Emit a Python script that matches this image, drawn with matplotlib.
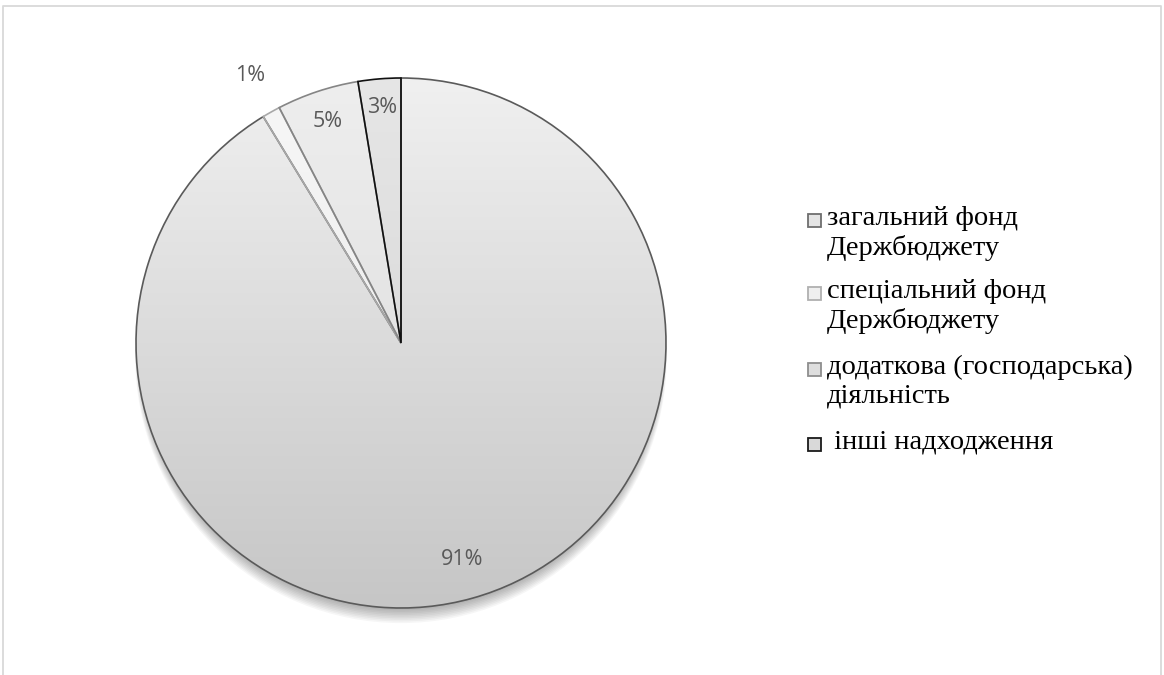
import numpy as np
import matplotlib
matplotlib.use("Agg")
import matplotlib.pyplot as plt
from matplotlib.patches import Rectangle, Circle
from matplotlib.colors import LinearSegmentedColormap

# ---- data ----
labels = [
    "загальний фонд\nДержбюджету",
    "спеціальний фонд\nДержбюджету",
    "додаткова (господарська)\nдіяльність",
    " інші надходження",
]
shares = [91.3, 1.1, 5.0, 2.6]

# ---- style ----
grad_top = ["#f0f0f0", "#f7f7f7", "#eeeeee", "#e6e6e6"]
grad_bot = ["#c6c6c6", "#e6e6e6", "#d9d9d9", "#d2d2d2"]
edge_cols = ["#5a5a5a", "#a8a8a8", "#858585", "#111111"]
box_faces = ["#e4e4e4", "#efefef", "#dedede", "#d9d9d9"]
box_edges = ["#6e6e6e", "#b0b0b0", "#8e8e8e", "#1a1a1a"]
label_r = [0.85, 1.16, 0.88, 0.89]
pct_color = "#595959"

W, H = 1164, 675
fig = plt.figure(figsize=(W / 100, H / 100), dpi=100)
fig.patch.set_facecolor("white")

# outer frame (top, left, right)
frame = fig.add_axes([0, 0, 1, 1])
frame.set_xlim(0, W)
frame.set_ylim(H, 0)
frame.axis("off")
frame.plot([3, 3, 1161, 1161], [H + 5, 6, 6, H + 5], color="#d9d9d9", lw=1.3)

# pie axes
cx, cy, R = 401, 343, 265
ax = fig.add_axes([(cx - R) / W, (H - cy - R) / H, 2 * R / W, 2 * R / H])

wedges, _ = ax.pie(shares, startangle=90, counterclock=False, radius=1.0,
                   wedgeprops=dict(linewidth=0))
ax.set_xlim(-1, 1)
ax.set_ylim(-1, 1)
ax.set_aspect("equal")
ax.axis("off")

# soft shadow, mostly below the pie
for i in range(10):
    ax.add_patch(Circle((0, -0.018 - i * 0.004), 0.985 + i * 0.002,
                        facecolor="black", edgecolor="none",
                        alpha=0.035, zorder=0, clip_on=False))

grad = np.linspace(0, 1, 256).reshape(-1, 1)
for w, top, bot in zip(wedges, grad_top, grad_bot):
    w.set_facecolor("none")
    w.set_zorder(3)
    cmap = LinearSegmentedColormap.from_list("g", [bot, top])
    im = ax.imshow(grad, extent=[-1, 1, -1, 1], cmap=cmap, origin="lower",
                   aspect="auto", zorder=2, vmin=0, vmax=1)
    im.set_clip_path(w)

for w, ec in zip(wedges, edge_cols):
    w.set_edgecolor(ec)
    w.set_linewidth(1.2)

# percent labels
for w, s, r in zip(wedges, shares, label_r):
    ang = np.deg2rad((w.theta1 + w.theta2) / 2)
    ax.text(r * np.cos(ang), r * np.sin(ang), f"{s:.0f}%",
            ha="center", va="center", fontsize=15.5, color=pct_color,
            family="Open Sans", zorder=5)

# legend drawn by hand so boxes align with the first text line
leg_y = [220, 293, 369, 444]
for lab, y, fc, ec in zip(labels, leg_y, box_faces, box_edges):
    frame.add_patch(Rectangle((808, y - 6.5), 13, 13, facecolor=fc,
                              edgecolor=ec, lw=1.3))
    frame.text(827, y - 14, lab, ha="left", va="top", fontsize=20.5,
               family="Liberation Serif", color="black", linespacing=1.2)

fig.savefig("out.png", dpi=100)
